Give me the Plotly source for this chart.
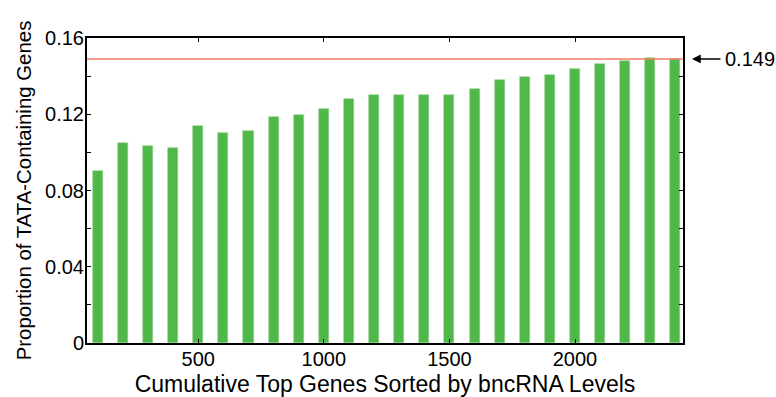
import plotly.graph_objects as go

# Cumulative number of top genes (sorted by bncRNA level) in each bin
top_genes = [100, 200, 300, 400, 500, 600, 700, 800, 900, 1000, 1100, 1200,
             1300, 1400, 1500, 1600, 1700, 1800, 1900, 2000, 2100, 2200, 2300, 2400]
# Proportion of TATA-containing genes among those top genes
tata_prop = [0.090, 0.105, 0.1033, 0.1024, 0.1139, 0.110, 0.1113, 0.1186,
             0.1198, 0.123, 0.128, 0.130, 0.130, 0.130, 0.130, 0.133,
             0.1382, 0.1394, 0.1405, 0.144, 0.1466, 0.148, 0.1497, 0.149]
# Genome-wide baseline proportion
baseline = 0.149

y_ticks = [0, 0.04, 0.08, 0.12, 0.16]
y_tick_text = ["0", "0.04", "0.08", "0.12", "0.16"]
x_ticks = [500, 1000, 1500, 2000]

FONT = "Liberation Sans, Arial, sans-serif"

fig = go.Figure()
fig.add_trace(go.Bar(
    x=top_genes, y=tata_prop, width=40,
    marker=dict(color="#50b848", line=dict(color="#8fd28a", width=0.6)),
    showlegend=False,
))

fig.add_shape(type="line", xref="paper", x0=0, x1=1, yref="y",
              y0=baseline, y1=baseline, layer="above",
              line=dict(color="#f47a68", width=1.6))

# arrow pointing at the baseline from the right margin
fig.add_annotation(xref="paper", yref="y", x=1.015, y=baseline,
                   ax=30, ay=0, axref="pixel", ayref="pixel",
                   text="", showarrow=True, arrowhead=2, arrowsize=1.1,
                   arrowwidth=1.6, arrowcolor="black")
fig.add_annotation(xref="paper", yref="y", x=1.067, y=baseline,
                   xanchor="left", yanchor="middle", showarrow=False,
                   text=f"{baseline:.3f}", font=dict(size=20, color="black", family=FONT))

axis_common = dict(showline=True, linecolor="black", linewidth=2, mirror="ticks",
                   ticks="inside", ticklen=4, tickwidth=1, tickcolor="black",
                   showgrid=False, zeroline=False, automargin=False,
                   tickfont=dict(size=20, color="black", family=FONT))

fig.update_xaxes(range=[57, 2430], tickvals=x_ticks, ticklabelstandoff=-3,
                 title=dict(text="Cumulative Top Genes Sorted by bncRNA Levels",
                            font=dict(size=23, color="black", family=FONT)),
                 **axis_common)
fig.update_yaxes(range=[0, 0.16], tickvals=y_ticks, ticktext=y_tick_text,
                 ticklabelstandoff=-3,
                 minor=dict(tickvals=[0.02, 0.06, 0.10, 0.14], ticks="inside",
                            ticklen=4, tickcolor="black"),
                 title=dict(text="Proportion of TATA-Containing Genes", standoff=8,
                            font=dict(size=20.4, color="black", family=FONT)),
                 **axis_common)

fig.update_layout(width=776, height=397, margin=dict(l=87, r=93, t=38, b=54),
                  plot_bgcolor="white", paper_bgcolor="white",
                  font=dict(family=FONT, color="black"), bargap=0)

fig.write_html("out.html")
